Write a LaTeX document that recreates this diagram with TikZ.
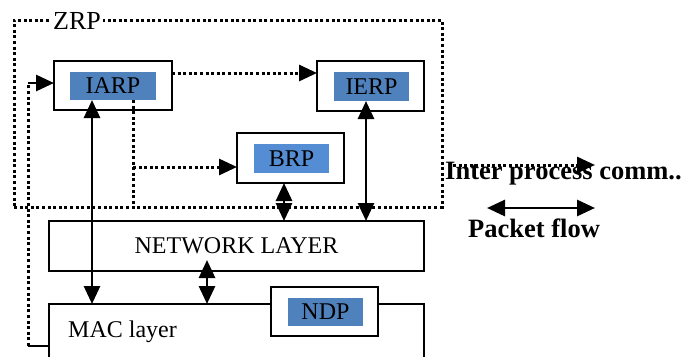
\documentclass[tikz,border=0pt]{standalone}
\usepackage{fontspec}
\setmainfont{Liberation Serif}
\usetikzlibrary{arrows.meta}
\definecolor{tagblue}{RGB}{79,129,189}
\definecolor{tagblueB}{RGB}{84,141,212}
\begin{document}
\begin{tikzpicture}[x=1pt,y=-1pt,
  >={Triangle[length=18pt,width=16pt]},
  frame/.style={draw, line width=2.6pt, inner sep=0pt, outer sep=0pt},
  tag/.style={fill=#1, inner sep=0pt, outer sep=0pt, text=black},
  txt/.style={font=\fontsize{24}{28}\selectfont},
  legend/.style={font=\bfseries\fontsize{26.5}{30}\selectfont},
  pkt/.style={line width=2.8pt, <->},
  ipc/.style={line width=3pt, dash pattern=on 3pt off 2.6pt},
]
\useasboundingbox (0,0) rectangle (695,356);
\fill[white] (0,0) rectangle (695,356);

% ZRP zone
\node[ipc, draw, inner sep=0pt, outer sep=0pt, minimum width=428pt, minimum height=187pt] (zone) at (228,113.5) {};
\node[font=\fontsize{26}{30}\selectfont, fill=white, inner xsep=2pt, inner ysep=0pt, anchor=base west] (zrp) at (51,29) {ZRP};

% routing components
\node[frame, minimum width=118pt, minimum height=49pt] (iarp) at (113,85.5) {};
\node[tag=tagblue, txt, minimum width=86pt, minimum height=28pt] (iarpin) at (113,86) {IARP};
\node[frame, minimum width=107pt, minimum height=50pt] (ierp) at (370.5,86) {};
\node[tag=tagblue, txt, minimum width=75pt, minimum height=29pt] (ierpin) at (371.5,86.5) {IERP};
\node[frame, minimum width=107pt, minimum height=50pt] (brp) at (290.5,158) {};
\node[tag=tagblueB, txt, minimum width=75pt, minimum height=29pt] (brpin) at (291.5,158.5) {BRP};

% layers
\node[frame, txt, minimum width=375pt, minimum height=50pt] (net) at (236.5,246) {NETWORK LAYER};
\node[frame, minimum width=375pt, minimum height=80pt, anchor=north west] (mac) at (49,304) {};
\node[txt, anchor=base west, inner sep=0pt] (maclabel) at (68,337) {MAC layer};
\node[frame, fill=white, minimum width=107pt, minimum height=49pt] (ndp) at (324.5,311.5) {};
\node[tag=tagblue, txt, minimum width=75pt, minimum height=28pt] (ndpin) at (325.5,312) {NDP};

% packet flow
\coordinate (ca) at (92,0);
\coordinate (cb) at (284,0);
\coordinate (cc) at (366,0);
\coordinate (d1) at (207,260);
\draw[pkt] (iarpin.south -| ca) -- (mac.north -| ca);
\draw[pkt] (brp.south -| cb) -- (net.north -| cb);
\draw[pkt] (ierpin.south -| cc) -- (net.north -| cc);
\draw[pkt] (d1) -- (mac.north -| d1);

% inter process communication
\coordinate (ry) at (0,73);
\coordinate (bx) at (133,0);
\coordinate (by) at (0,167);
\draw[ipc,->] (iarp.east |- ry) -- (ierp.west |- ry);
\draw[ipc] (iarpin.south -| bx) -- (zone.south -| bx);
\draw[ipc,->] (bx |- by) -- (brp.west |- by);

% feedback from MAC to IARP
\coordinate (lx) at (28,0);
\coordinate (ly1) at (0,346);
\coordinate (ly2) at (0,83);
\draw[line width=2.6pt] (mac.west |- ly1) -- (lx |- ly1);
\draw[ipc] (lx |- ly1) -- (lx |- ly2);
\draw[line width=2.8pt,->] (lx |- ly2) -- (iarp.west |- ly2);

% legend
\node[legend, anchor=base west, inner sep=0pt] (ipclabel) at (445,179) {Inter process comm..};
\coordinate (l1) at (453,165);
\coordinate (l2) at (595,165);
\draw[ipc,->] (l1) -- (l2);
\coordinate (p1) at (487,208);
\coordinate (p2) at (595,208);
\draw[pkt] (p1) -- (p2);
\node[legend, anchor=base west, inner sep=0pt] (pktlabel) at (468,237) {Packet flow};
\end{tikzpicture}
\end{document}
